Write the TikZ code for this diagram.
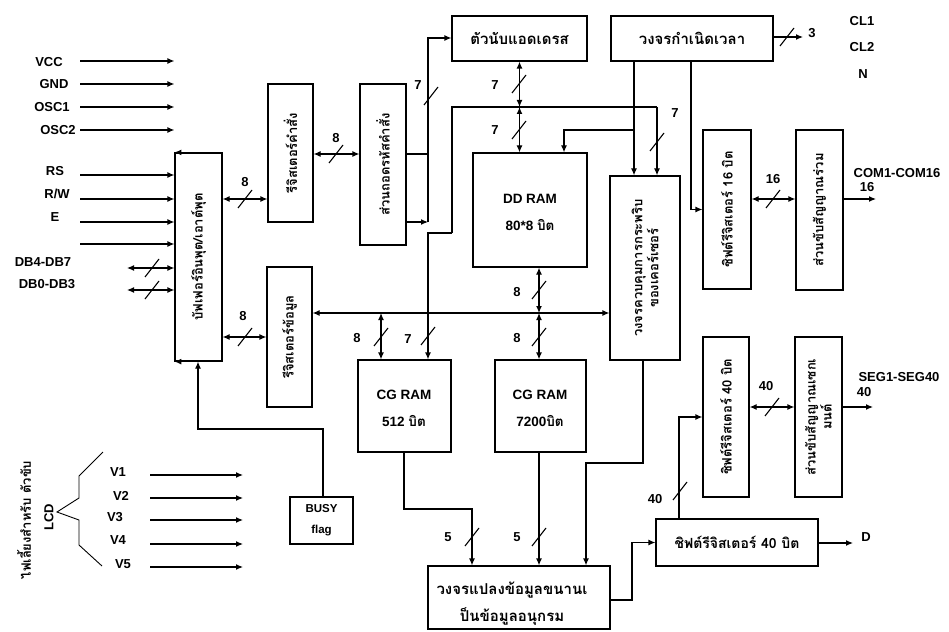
\documentclass[tikz,border=0pt]{standalone}
\usepackage{fontspec}
\setmainfont{Liberation Sans}
\newfontfamily\thai[Script=Thai]{Loma}
\usetikzlibrary{arrows.meta,calc}
\newcommand\bx[5]{\node[box,minimum width={(#4-#2)*1pt},minimum height={(#5-#3)*1pt}] (#1) at ({(#2+#4)/2},{(#3+#5)/2}) {};}
\newcommand\slh[2]{\draw[slash] ({#1-7},{#2+9}) -- ({#1+7},{#2-9});}
\begin{document}
\begin{tikzpicture}[x=1pt,y=-1pt,
  box/.style={draw,line width=1.2pt,inner sep=0pt},
  ttl/.style={font=\thai\bfseries\fontsize{13}{16}\selectfont,align=center,inner sep=0pt},
  ttlh/.style={font=\thai\bfseries\fontsize{15}{18}\selectfont,align=center,inner sep=0pt},
  lat/.style={font=\rmfamily\bfseries\fontsize{13.5}{27}\selectfont,align=center,inner sep=0pt},
  lbl/.style={font=\rmfamily\bfseries\fontsize{13}{15}\selectfont,inner sep=0pt},
  wire/.style={line width=1.2pt},
  slash/.style={line width=1.1pt},
  arr/.style={wire,-{Latex[length=7pt,width=6pt]}},
  dbl/.style={wire,{Latex[length=7pt,width=6pt]}-{Latex[length=7pt,width=6pt]}},
]
\useasboundingbox (0,0) rectangle (949,631);

% ---------- boxes ----------
\bx{io}{175}{153}{222}{361}
\bx{ir}{268}{84}{313}{222}
\bx{dr}{267}{267}{312}{407}
\bx{dec}{360}{84}{406}{245}
\bx{ac}{452}{16}{587}{61}
\bx{tg}{611}{16}{773}{61}
\bx{dd}{473}{153}{587}{267}
\bx{cur}{610}{176}{680}{360}
\bx{sr16}{703}{130}{751}{289}
\bx{com}{796}{130}{843}{290}
\bx{cgr}{358}{360}{451}{452}
\bx{cgo}{495}{360}{586}{452}
\bx{sr40v}{703}{337}{749}{497}
\bx{seg}{795}{337}{842}{497}
\bx{busy}{290}{497}{353}{544}
\bx{sr40h}{656}{519}{818}{566}
\bx{ps}{428}{566}{610}{629}

% ---------- box texts ----------
\node[ttl,rotate=90] (io-t) at (io) {บัฟเฟอร์อินพุต/เอาต์พุต};
\node[ttl,rotate=90] (ir-t) at (ir) {รีจิสเตอร์คำสั่ง};
\node[ttl,rotate=90] (dr-t) at (dr) {รีจิสเตอร์ข้อมูล};
\node[ttl,rotate=90] (dec-t) at (dec) {ส่วนถอดรหัสคำสั่ง};
\node[ttlh] (ac-t) at (ac) {ตัวนับแอดเดรส};
\node[ttlh] (tg-t) at (tg) {วงจรกำเนิดเวลา};
\node[lat] (dd-t) at (530,212) {DD RAM\\80*8 {\thai บิต}};
\node[ttl,rotate=90] (cur-t) at (cur) {วงจรควบคุมการกระพริบ\\ของเคอร์เซอร์};
\node[ttl,rotate=90] (sr16-t) at (sr16) {ชิฟต์รีจิสเตอร์ 16 บิต};
\node[ttl,rotate=90] (com-t) at (com) {ส่วนขับสัญญาณร่วม};
\node[lat] (cgr-t) at (404,408) {CG RAM\\512 {\thai บิต}};
\node[lat] (cgo-t) at (540,408) {CG RAM\\7200{\thai บิต}};
\node[ttl,rotate=90] (sr40v-t) at (sr40v) {ชิฟต์รีจิสเตอร์ 40 บิต};
\node[ttl,rotate=90] (seg-t) at (seg) {ส่วนขับสัญญาณเซกเ\\มนต์};
\node[lat,font=\rmfamily\bfseries\fontsize{11.5}{21}\selectfont] (busy-t) at (busy) {BUSY\\flag};
\node[ttlh,font=\thai\bfseries\fontsize{14}{17}\selectfont] (sr40h-t) at (sr40h) {ชิฟต์รีจิสเตอร์ 40 บิต};
\node[ttlh,font=\thai\bfseries\fontsize{15}{27}\selectfont] (ps-t) at (512,604) {วงจรแปลงข้อมูลขนานเ\\ป็นข้อมูลอนุกรม};

% ---------- inputs on the left ----------
\foreach \nm/\t/\lx/\ly/\ay in {vcc/VCC/49/62/61, gnd/GND/54/84/84, osca/OSC1/52/107/107, oscb/OSC2/58/130/130, rs/RS/55/171/175, rw/{R/W}/57/194/199, en/E/55/217/222}{
  \node[lbl] (\nm) at (\lx,\ly) {\t};
  \coordinate (\nm-s) at (80,\ay);
  \draw[arr] (\nm-s) -- (\nm-s -| io.west);
}
\coordinate (x4-s) at (80,244);
\draw[arr] (x4-s) -- (x4-s -| io.west);
\node[lbl] (dbh) at (43,262) {DB4-DB7};
\node[lbl] (dbl) at (47,284) {DB0-DB3};
\coordinate (dbh-s) at (127,268);
\coordinate (dbl-s) at (127,290);
\draw[dbl] (dbh-s) -- (dbh-s -| io.west);
\draw[dbl] (dbl-s) -- (dbl-s -| io.west);
\slh{152}{268}
\slh{152}{290}
% corner arrowheads of the I/O buffer
\draw[arr] (io.north) -- (io.north west);
\draw[arr] (io.south) -- (io.south west);

% ---------- IO <-> registers ----------
\draw[dbl] (io.east |- 0,199) -- (ir.west |- 0,199);
\slh{245}{199} \node[lbl] (l8a) at (245,182) {8};
\draw[dbl] (io.east |- 0,337) -- (dr.west |- 0,337);
\slh{245}{337} \node[lbl] (l8b) at (243,316) {8};
\draw[dbl] (ir.east |- 0,154) -- (dec.west |- 0,154);
\slh{336}{154} \node[lbl] (l8c) at (336,138) {8};

% ---------- decoder -> address counter ----------
\coordinate (dv1) at (428,154);
\coordinate (dv2) at (428,222);
\coordinate (dv3) at (428,38);
\draw[wire] (dec.east |- dv1) -- (dv1);
\draw[arr] (dec.east |- dv2) -- (dv2);
\draw[arr] (dv2) -- (dv3) -- (dv3 -| ac.west);
\slh{431}{96} \node[lbl] (l7a) at (418,85) {7};

% ---------- address counter <-> DD RAM, address bus ----------
\coordinate (abj) at (519.5,107);
\draw[dbl] (ac.south) -- (abj);
\draw[dbl] (abj) -- (abj |- dd.north);
\slh{519}{84} \node[lbl] (l7b) at (495,85) {7};
\slh{519}{130} \node[lbl] (l7c) at (495,130) {7};
\coordinate (ab1) at (452,107);
\coordinate (ab2) at (657,107);
\coordinate (ab3) at (452,233);
\coordinate (ab4) at (428,233);
\draw[wire] (ab3) -- (ab1) -- (ab2);
\draw[arr] (ab2) -- (ab2 |- cur.north);
\slh{657}{142} \node[lbl] (l7d) at (675,113) {7};
\draw[arr] (ab3) -- (ab4) -- (ab4 |- cgr.north);
\slh{428}{336} \node[lbl] (l7e) at (408,339) {7};

% ---------- timing generator ----------
\coordinate (tg1) at (634,61);
\coordinate (tg2) at (634,130);
\coordinate (tg3) at (564,130);
\coordinate (tg4) at (691,61);
\coordinate (tg5) at (691,209.5);
\draw[arr] (tg1) -- (tg1 |- cur.north);
\draw[arr] (tg2) -- (tg3) -- (tg3 |- dd.north);
\draw[arr] (tg4) -- (tg5) -- (sr16.west);
\coordinate (tg6) at (773,37);
\coordinate (tg7) at (803,37);
\draw[arr] (tg6) -- (tg7);
\slh{787}{37} \node[lbl] (l3) at (812,33) {3};
\node[lbl] (cl1) at (862,21) {CL1};
\node[lbl] (cl2) at (862,47) {CL2};
\node[lbl] (nn) at (863,74) {N};

% ---------- common side ----------
\draw[dbl] (sr16.east |- 0,199) -- (com.west |- 0,199);
\slh{773}{199} \node[lbl] (l16) at (773,179) {16};
\coordinate (co1) at (876,199);
\draw[arr] (com.east |- co1) -- (co1);
\node[lbl] (comlab) at (897,173) {COM1-COM16};
\node[lbl] (com16) at (867,187) {16};

% ---------- data bus ----------
\coordinate (db1) at (381,313);
\coordinate (db2) at (539,313);
\draw[dbl] (dr.east |- db1) -- (cur.west |- db1);
\draw[dbl] (db1) -- (db1 |- cgr.north);
\slh{381}{337} \node[lbl] (l8d) at (357,338) {8};
\draw[dbl] (db2 |- dd.south) -- (db2);
\slh{539}{290} \node[lbl] (l8e) at (517,292) {8};
\draw[dbl] (db2) -- (db2 |- cgo.north);
\slh{539}{337} \node[lbl] (l8f) at (517,338) {8};

% ---------- to parallel/serial converter ----------
\coordinate (cg1) at (404,452);
\coordinate (cg2) at (404,509);
\coordinate (cg3) at (472,509);
\draw[arr] (cg1) -- (cg2) -- (cg3) -- (cg3 |- ps.north);
\slh{472}{537} \node[lbl] (l5a) at (448,537) {5};
\coordinate (co2) at (539,452);
\draw[arr] (co2) -- (co2 |- ps.north);
\slh{539}{537} \node[lbl] (l5b) at (517,537) {5};
\coordinate (cu1) at (643,360);
\coordinate (cu2) at (643,463);
\coordinate (cu3) at (586,463);
\draw[arr] (cu1) -- (cu2) -- (cu3) -- (cu3 |- ps.north);

% ---------- serial path ----------
\coordinate (ps1) at (610,600);
\coordinate (ps2) at (632,600);
\draw[arr] (ps1) -- (ps2) -- (ps2 |- sr40h.west) -- (sr40h.west);
\coordinate (sh1) at (679,519);
\coordinate (sh2) at (679,417);
\draw[arr] (sh1) -- (sh2) -- (sr40v.west);
\slh{680}{491} \node[lbl] (l40a) at (655,499) {40};
\coordinate (dd1) at (853,543);
\draw[arr] (sr40h.east |- dd1) -- (dd1);
\node[lbl] (dlab) at (866,537) {D};

% ---------- segment side ----------
\draw[dbl] (sr40v.east |- 0,407) -- (seg.west |- 0,407);
\slh{772}{407} \node[lbl] (l40b) at (766,386) {40};
\coordinate (sg1) at (873,407);
\draw[arr] (seg.east |- sg1) -- (sg1);
\node[lbl] (seglab) at (899,377) {SEG1-SEG40};
\node[lbl] (seg40) at (864,392) {40};

% ---------- BUSY flag ----------
\coordinate (bf1) at (323,429);
\coordinate (bf2) at (198,429);
\draw[arr] (busy.north -| bf1) -- (bf1) -- (bf2) -- (bf2 |- io.south);

% ---------- LCD supply ----------
\foreach \nm/\t/\lx/\ly/\ay in {va/V1/118/472/475, vb/V2/121/496/498, vc/V3/115/517/520, vd/V4/118/540/544, ve/V5/123/564/567}{
  \node[lbl] (\nm) at (\lx,\ly) {\t};
  \coordinate (\nm-s) at (150,\ay);
  \coordinate (\nm-e) at (243,\ay);
  \draw[arr] (\nm-s) -- (\nm-e);
}
\coordinate (br0) at (57,512);
\draw[line width=0.9pt] (103,452) -- (79,476) -- (79,498) -- (br0) -- (79,520) -- (79,545) -- (102,566);
\node[lbl,rotate=90] (lcd) at (49,517) {LCD};
\node[ttl,rotate=90] (supply) at (24,520) {ไฟเลี้ยงสำหรับ ตัวขับ};
\end{tikzpicture}
\end{document}
